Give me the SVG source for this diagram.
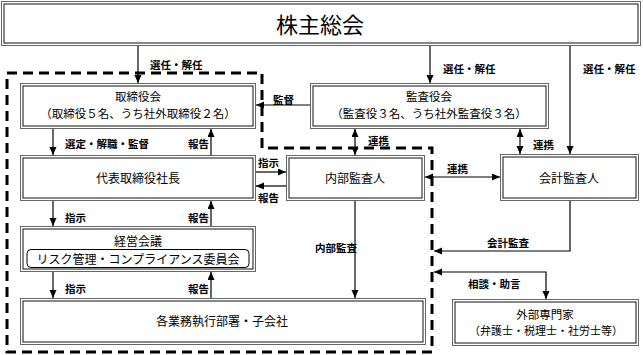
<svg xmlns="http://www.w3.org/2000/svg" width="643" height="355" viewBox="0 0 643 355">
<defs>
<style>
.o{fill:#fff;stroke:#666;stroke-width:1}
.i{fill:none;stroke:#111;stroke-width:1}
.t{font-family:"Noto Sans CJK JP","Noto Sans",sans-serif;font-size:12px;fill:#000;text-anchor:middle;dominant-baseline:central}
.s{font-size:11.5px}
.l{font-family:"Noto Sans CJK JP","Noto Sans",sans-serif;font-size:10.5px;font-weight:bold;fill:#000;dominant-baseline:central}
.c{fill:none;stroke:#000;stroke-width:1.2}
.a{marker-end:url(#ah)}
.b{marker-start:url(#ah);marker-end:url(#ah)}
</style>
<marker id="ah" markerUnits="userSpaceOnUse" markerWidth="8" markerHeight="8" refX="8" refY="3.5" orient="auto-start-reverse">
<path d="M0,0 L8,3.5 L0,7 z" fill="#000"/>
</marker>
</defs>
<rect width="643" height="355" fill="#fff"/>

<g id="boundary">
<path d="M7,73 H262 V148 H432 V352 H7 Z" fill="none" stroke="#000" stroke-width="3" stroke-dasharray="10 6"/>
</g>

<g id="shareholders">
<rect class="o" x="1.5" y="1.5" width="639" height="44"/>
<rect class="i" x="4" y="4" width="634" height="39"/>
<text class="t" x="320" y="23" style="font-size:22px">株主総会</text>
</g>

<g id="board">
<rect class="o" x="20.5" y="83.5" width="235" height="45"/>
<rect class="i" x="23" y="86" width="230" height="40"/>
<text class="t s" x="138" y="96">取締役会</text>
<text class="t s" x="138" y="113">（取締役５名、うち社外取締役２名）</text>
</g>

<g id="auditboard">
<rect class="o" x="310.5" y="83.5" width="238" height="45"/>
<rect class="i" x="313" y="86" width="233" height="40"/>
<text class="t s" x="429" y="96">監査役会</text>
<text class="t s" x="429" y="113">（監査役３名、うち社外監査役３名）</text>
</g>

<g id="president">
<rect class="o" x="20.5" y="155.5" width="235" height="45"/>
<rect class="i" x="23" y="158" width="230" height="40"/>
<text class="t" x="138" y="177">代表取締役社長</text>
</g>

<g id="internalauditor">
<rect class="o" x="286.5" y="155.5" width="138" height="45"/>
<rect class="i" x="289" y="158" width="133" height="40"/>
<text class="t" x="355" y="177">内部監査人</text>
</g>

<g id="accountingauditor">
<rect class="o" x="500.5" y="154.5" width="138" height="46"/>
<rect class="i" x="503" y="157" width="133" height="41"/>
<text class="t" x="569" y="177">会計監査人</text>
</g>

<g id="management">
<rect class="o" x="20.5" y="226.5" width="235" height="45"/>
<rect class="i" x="23" y="229" width="230" height="40"/>
<text class="t" x="138" y="240">経営会議</text>
<rect x="27" y="249.5" width="222" height="18" rx="4" fill="none" stroke="#000" stroke-width="1"/>
<text class="t" x="138" y="258.5">リスク管理・コンプライアンス委員会</text>
</g>

<g id="departments">
<rect class="o" x="20.5" y="298.5" width="405" height="46"/>
<rect class="i" x="23" y="301" width="400" height="41"/>
<text class="t" x="222" y="320">各業務執行部署・子会社</text>
</g>

<g id="experts">
<rect class="o" x="452.5" y="299.5" width="186" height="46"/>
<rect class="i" x="455" y="302" width="181" height="41"/>
<text class="t s" x="545" y="314">外部専門家</text>
<text class="t" x="546" y="330" style="font-size:11px">（弁護士・税理士・社労士等）</text>
</g>

<g id="connectors">
<path class="c a" d="M138,46 V83"/>
<path class="c a" d="M430,46 V83"/>
<path class="c a" d="M570,46 V154"/>
<path class="c a" d="M310,105 H256"/>
<path class="c a" d="M53,129 V155"/>
<path class="c a" d="M211,155 V129"/>
<path class="c a" d="M256,172 H286"/>
<path class="c a" d="M286,186 H256"/>
<path class="c b" d="M355,129 V155"/>
<path class="c b" d="M520,129 V154"/>
<path class="c b" d="M425,177 H500"/>
<path class="c a" d="M53,201 V226"/>
<path class="c a" d="M211,226 V201"/>
<path class="c a" d="M53,272 V298"/>
<path class="c a" d="M211,298 V272"/>
<path class="c a" d="M355,201 V298"/>
<path class="c a" d="M570,201 V251 H434"/>
<path class="c b" d="M434,272 H546 V299"/>
</g>

<g id="labels">
<text class="l" x="150" y="64">選任・解任</text>
<text class="l" x="443" y="68">選任・解任</text>
<text class="l" x="583" y="68">選任・解任</text>
<text class="l" x="273" y="99">監督</text>
<text class="l" x="65" y="143">選定・解職・監督</text>
<text class="l" x="188" y="143">報告</text>
<text class="l" x="258" y="162">指示</text>
<text class="l" x="258" y="197">報告</text>
<text class="l" x="368" y="140">連携</text>
<text class="l" x="533" y="144">連携</text>
<text class="l" x="447" y="168">連携</text>
<text class="l" x="65" y="217">指示</text>
<text class="l" x="188" y="217">報告</text>
<text class="l" x="65" y="288">指示</text>
<text class="l" x="188" y="288">報告</text>
<text class="l" x="315" y="247">内部監査</text>
<text class="l" x="487" y="242">会計監査</text>
<text class="l" x="468" y="283">相談・助言</text>
</g>
</svg>
